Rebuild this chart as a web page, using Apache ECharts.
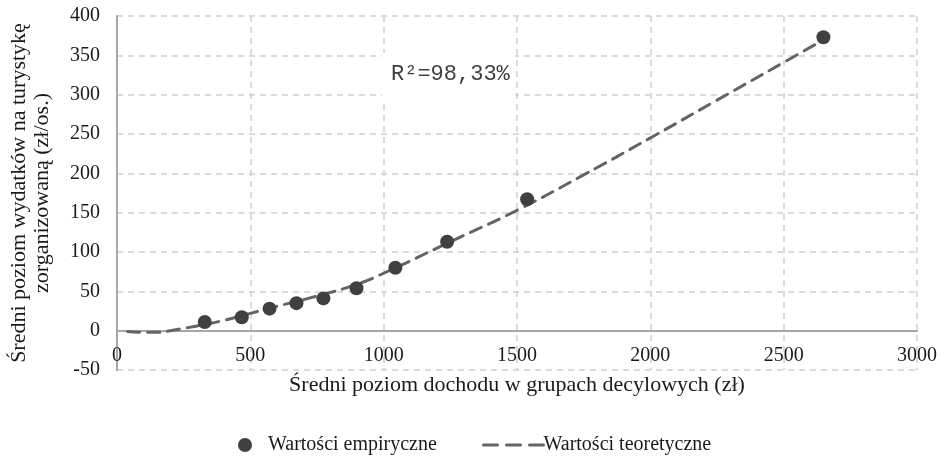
<!DOCTYPE html>
<html>
<head>
<meta charset="utf-8">
<script src="https://cdn.jsdelivr.net/npm/echarts@6/dist/echarts.min.js"></script>
<style>
html,body{margin:0;padding:0;background:#fff;}
#chart{width:943px;height:459px;}
</style>
</head>
<body>
<div id="chart"></div>
<script>
// Empirical points (income, spending)
var empX = [329, 468, 572, 673, 774, 898, 1044, 1238, 1538, 2649];
var empY = [11, 17, 28, 35, 41, 54, 80, 113, 167, 373];
// Theoretical (trend) curve
var teoX = [40, 100, 150, 200, 250, 300, 400, 500, 600, 750, 900, 1000, 1250, 1500, 1750, 2000, 2250, 2500, 2620];
var teoY = [-1, -2, -2, 0, 3, 6, 13, 22, 31, 44, 59, 73, 113, 153, 198, 245, 293, 341, 364];
var xTicks = [0, 500, 1000, 1500, 2000, 2500, 3000];
var yTicks = [-50, 0, 50, 100, 150, 200, 250, 300, 350, 400];
var nameEmp = 'Wartości empiryczne';
var nameTeo = 'Wartości teoretyczne';
var xTitle = 'Średni poziom dochodu w grupach decylowych (zł)';
var yTitle = 'Średni poziom wydatków na turystykę\nzorganizowaną (zł/os.)';
var r2Text = 'R²=98,33%';

var font = 'Liberation Serif';
var chart = echarts.init(document.getElementById('chart'));
chart.setOption({
  animation: false,
  backgroundColor: '#fff',
  grid: {left: 115, right: 26, top: 16, bottom: 89},
  xAxis: {
    type: 'value',
    min: xTicks[0], max: xTicks[xTicks.length - 1], interval: 500,
    axisLine: {onZero: true, lineStyle: {color: '#a6a6a6', width: 2}},
    axisTick: {show: false},
    axisLabel: {fontFamily: font, fontSize: 20, color: '#1a1a1a', margin: -24,
      formatter: function (v) { return String(v); }},
    splitLine: {show: true, lineStyle: {color: '#d0d0d0', type: [6, 5], width: 1.5}},
    name: xTitle, nameLocation: 'middle', nameGap: 4,
    nameTextStyle: {fontFamily: font, fontSize: 22, color: '#1a1a1a', verticalAlign: 'top'}
  },
  yAxis: {
    type: 'value',
    min: yTicks[0], max: yTicks[yTicks.length - 1], interval: 50,
    axisLine: {show: true, onZero: false, lineStyle: {color: '#a6a6a6', width: 2}},
    axisTick: {show: false},
    axisLabel: {fontFamily: font, fontSize: 20, color: '#1a1a1a', margin: 17},
    splitLine: {show: true, lineStyle: {color: '#d0d0d0', type: [6, 5], width: 1.5}},
    name: yTitle, nameLocation: 'middle', nameGap: 63,
    nameTextStyle: {fontFamily: font, fontSize: 22, color: '#1a1a1a', lineHeight: 23}
  },
  legend: [{
    data: [{name: nameEmp, icon: 'circle'}],
    left: 238, top: 435, padding: 0, itemWidth: 14, itemHeight: 14, itemGap: 0,
    textStyle: {fontFamily: font, fontSize: 20, color: '#1a1a1a', padding: [0, 0, 0, 11]}
  }, {
    data: [nameTeo],
    left: 482, top: 435, padding: 0, itemWidth: 60, itemHeight: 14, itemGap: 0,
    itemStyle: {opacity: 0},
    lineStyle: {color: '#646464', width: 3, type: [14, 9]},
    textStyle: {fontFamily: font, fontSize: 20, color: '#1a1a1a', padding: [0, 0, 0, -5]}
  }],
  graphic: [{
    type: 'rect', left: 382, top: 53, shape: {width: 133, height: 51},
    style: {fill: '#fff', stroke: null}, z: 10
  }, {
    type: 'text', left: 391, top: 63, z: 11,
    style: {text: r2Text, font: '22px "Liberation Mono"', fill: '#404040'}
  }],
  series: [{
    name: nameTeo, type: 'line', smooth: true, showSymbol: false, symbol: 'none',
    data: teoX.map(function (x, i) { return [x, teoY[i]]; }),
    lineStyle: {color: '#646464', width: 3, type: [12, 8], cap: 'round'},
    itemStyle: {color: '#646464'}, z: 2
  }, {
    name: nameEmp, type: 'scatter', symbol: 'circle', symbolSize: 14,
    data: empX.map(function (x, i) { return [x, empY[i]]; }),
    itemStyle: {color: '#404040', opacity: 1}, z: 3
  }]
});
</script>
</body>
</html>
